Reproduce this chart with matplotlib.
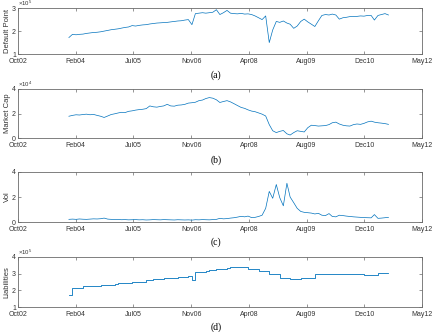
import numpy as np
import pandas as pd
import matplotlib
matplotlib.use("Agg")
import matplotlib.pyplot as plt
import matplotlib.dates as mdates

plt.rcParams["font.family"] = ["Liberation Sans", "DejaVu Sans"]
plt.rcParams["mathtext.fontset"] = "custom"
plt.rcParams["mathtext.rm"] = "Liberation Sans"

# --- monthly readings, Dec 2003 .. Jul 2011 ---
dates = pd.date_range("2003-12-01", periods=92, freq="MS") + pd.Timedelta(days=15)

default_point = [  # x 1e5
    1.72, 1.86, 1.84, 1.86,
    1.87, 1.90, 1.92, 1.94, 1.95, 1.97, 2.00, 2.03,
    2.06, 2.08, 2.10, 2.13, 2.16, 2.18, 2.24, 2.22,
    2.25, 2.27, 2.28, 2.31, 2.33, 2.35, 2.36, 2.37,
    2.38, 2.40, 2.42, 2.44, 2.45, 2.48, 2.50, 2.28,
    2.76, 2.78, 2.80, 2.78, 2.80, 2.82, 2.93, 2.72,
    2.80, 2.90, 2.78, 2.76, 2.75, 2.77, 2.74, 2.75,
    2.72, 2.66, 2.58, 2.50, 2.66, 1.50, 2.05, 2.42,
    2.38, 2.44, 2.35, 2.30, 2.12, 2.22, 2.42, 2.52,
    2.40, 2.30, 2.20, 2.45, 2.68, 2.72, 2.70, 2.74,
    2.70, 2.52, 2.58, 2.60, 2.63, 2.64, 2.64, 2.66,
    2.65, 2.68, 2.68, 2.48, 2.68, 2.72, 2.76, 2.70,
]

market_cap = [  # x 1e4
    1.78, 1.85, 1.90, 1.88,
    1.92, 1.95, 1.90, 1.93, 1.85, 1.78, 1.68, 1.80,
    1.92, 1.98, 2.05, 2.10, 2.08, 2.18, 2.22, 2.28,
    2.32, 2.35, 2.40, 2.62, 2.55, 2.52, 2.58, 2.62,
    2.75, 2.62, 2.60, 2.68, 2.70, 2.75, 2.85, 2.88,
    2.92, 3.05, 3.10, 3.22, 3.30, 3.25, 3.12, 2.90,
    2.98, 3.05, 2.95, 2.80, 2.65, 2.50, 2.42, 2.30,
    2.20, 2.15, 2.05, 1.95, 1.80, 1.10, 0.60, 0.45,
    0.55, 0.62, 0.35, 0.25, 0.45, 0.60, 0.55, 0.50,
    0.85, 1.05, 1.02, 0.98, 1.00, 1.02, 1.10, 1.25,
    1.30, 1.15, 1.05, 1.00, 0.98, 1.10, 1.15, 1.12,
    1.20, 1.32, 1.38, 1.30, 1.25, 1.22, 1.18, 1.12,
]

vol = [
    0.22, 0.24, 0.22, 0.25,
    0.23, 0.22, 0.24, 0.26, 0.25, 0.27, 0.32, 0.24,
    0.22, 0.20, 0.21, 0.19, 0.20, 0.18, 0.19, 0.20,
    0.18, 0.19, 0.17, 0.18, 0.20, 0.19, 0.18, 0.20,
    0.19, 0.18, 0.17, 0.19, 0.18, 0.17, 0.18, 0.16,
    0.19, 0.18, 0.20, 0.19, 0.18, 0.20, 0.22, 0.30,
    0.26, 0.28, 0.32, 0.35, 0.40, 0.46, 0.42, 0.48,
    0.36, 0.38, 0.45, 0.55, 1.10, 2.45, 1.90, 3.00,
    1.95, 1.30, 3.10, 2.00, 1.55, 1.10, 0.85, 0.78,
    0.75, 0.72, 0.65, 0.70, 0.55, 0.52, 0.68, 0.45,
    0.42, 0.55, 0.52, 0.48, 0.45, 0.42, 0.40, 0.38,
    0.36, 0.35, 0.34, 0.60, 0.30, 0.32, 0.35, 0.38,
]

liabilities = [  # x 1e5
    1.70, 2.16, 2.16, 2.16,
    2.24, 2.24, 2.24, 2.26, 2.26, 2.32, 2.32, 2.32,
    2.32, 2.40, 2.42, 2.42, 2.44, 2.44, 2.50, 2.50,
    2.50, 2.52, 2.62, 2.62, 2.66, 2.66, 2.66, 2.72,
    2.72, 2.72, 2.76, 2.80, 2.80, 2.82, 2.84, 2.62,
    3.10, 3.10, 3.12, 3.16, 3.20, 3.20, 3.26, 3.28,
    3.28, 3.36, 3.38, 3.38, 3.42, 3.42, 3.42, 3.30,
    3.26, 3.26, 3.16, 3.16, 3.14, 2.96, 2.96, 2.96,
    2.76, 2.76, 2.76, 2.68, 2.68, 2.68, 2.74, 2.74,
    2.74, 2.74, 2.96, 2.97, 2.97, 2.97, 2.97, 2.97,
    2.97, 2.97, 2.97, 2.97, 2.97, 2.97, 2.97, 2.97,
    2.92, 2.92, 2.92, 2.92, 3.02, 3.02, 3.02, 3.02,
]

xtick_labels = ["Oct02", "Feb04", "Jul05", "Nov06", "Apr08", "Aug09", "Dec10", "May12"]

panels = [
    ("Default Point", default_point, (1, 3), [1, 2, 3], "5", "(a)", False),
    ("Market Cap", market_cap, (0, 4), [0, 2, 4], "4", "(b)", False),
    ("Vol", vol, (0, 4), [0, 2, 4], None, "(c)", False),
    ("Liabilities", liabilities, (1, 4), [1, 2, 3, 4], "5", "(d)", True),
]

# axes boxes in figure fractions: (bottom, height)
boxes = [(0.837, 0.1386), (0.584, 0.148), (0.331, 0.151), (0.0753, 0.151)]
caption_y = [75, 160, 242, 327]

LINE = (0.0, 0.447, 0.741)
EDGE = "#6a6a6a"
TXT = "#333333"

fig = plt.figure(figsize=(4.32, 3.32), dpi=100)
xmin = mdates.date2num(pd.Timestamp("2002-10-01"))
xmax = mdates.date2num(pd.Timestamp("2012-05-01"))
xticks = np.linspace(xmin, xmax, len(xtick_labels))

for (ylab, vals, ylim, yt, expo, cap, step), (b, h), cy in zip(panels, boxes, caption_y):
    ax = fig.add_axes([0.0417, b, 0.935, h])
    x = mdates.date2num(dates)
    if step:
        ax.plot(x, vals, drawstyle="steps-post", color=LINE, lw=0.6)
    else:
        ax.plot(x, vals, color=LINE, lw=0.5)
    ax.set_xlim(xmin, xmax)
    ax.set_ylim(*ylim)
    ax.set_xticks(xticks)
    ax.set_xticklabels(xtick_labels)
    ax.set_yticks(yt)
    ax.tick_params(direction="in", length=2.5, width=0.5, labelsize=5,
                   colors=EDGE, labelcolor=TXT, pad=1.5, top=True, right=True)
    ax.tick_params(axis="x", pad=3)
    for s in ax.spines.values():
        s.set_color(EDGE)
        s.set_linewidth(0.6)
    ax.set_ylabel(ylab, fontsize=5.5, color=TXT, labelpad=1)
    if expo:
        ax.text(0.0, 1.0, r"$\times10^{%s}$" % expo, transform=ax.transAxes,
                fontsize=4.3, color=TXT, ha="left", va="bottom")
    fig.text(0.5, 1 - cy / 332, cap, ha="center", va="center",
             fontsize=7, family="Liberation Serif", color="black")

fig.savefig("out.png", dpi=100)
